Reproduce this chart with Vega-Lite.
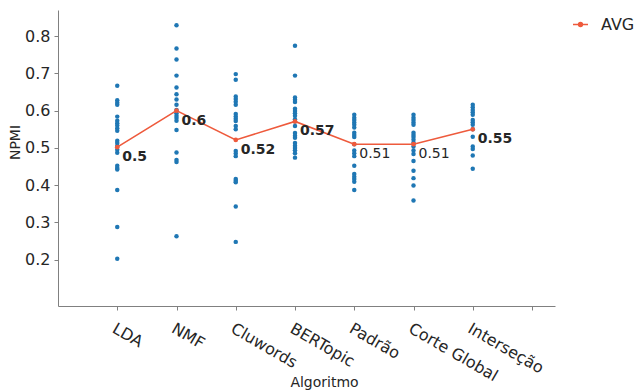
{
  "$schema": "https://vega.github.io/schema/vega-lite/v6.json",
  "autosize": {"type": "none"},
  "padding": {"left": 58, "top": 10, "right": 81, "bottom": 86},
  "width": 497,
  "height": 296,
  "config": {
    "font": "DejaVu Sans",
    "view": {"stroke": null},
    "axis": {
      "grid": false,
      "domainColor": "#808080",
      "tickColor": "#808080",
      "tickSize": 4,
      "labelColor": "#262626",
      "titleColor": "#262626",
      "labelFontSize": 16,
      "titleFontSize": 14,
      "titleFontWeight": "normal"
    }
  },
  "datasets": {
    "points": [
      {"Algoritmo": "LDA", "NPMI": 0.667}, {"Algoritmo": "LDA", "NPMI": 0.628}, {"Algoritmo": "LDA", "NPMI": 0.621}, {"Algoritmo": "LDA", "NPMI": 0.616}, {"Algoritmo": "LDA", "NPMI": 0.584}, {"Algoritmo": "LDA", "NPMI": 0.573}, {"Algoritmo": "LDA", "NPMI": 0.566}, {"Algoritmo": "LDA", "NPMI": 0.56}, {"Algoritmo": "LDA", "NPMI": 0.553}, {"Algoritmo": "LDA", "NPMI": 0.546}, {"Algoritmo": "LDA", "NPMI": 0.519}, {"Algoritmo": "LDA", "NPMI": 0.513}, {"Algoritmo": "LDA", "NPMI": 0.505}, {"Algoritmo": "LDA", "NPMI": 0.495}, {"Algoritmo": "LDA", "NPMI": 0.487}, {"Algoritmo": "LDA", "NPMI": 0.452}, {"Algoritmo": "LDA", "NPMI": 0.446}, {"Algoritmo": "LDA", "NPMI": 0.442}, {"Algoritmo": "LDA", "NPMI": 0.387}, {"Algoritmo": "LDA", "NPMI": 0.288}, {"Algoritmo": "LDA", "NPMI": 0.203},
      {"Algoritmo": "NMF", "NPMI": 0.829}, {"Algoritmo": "NMF", "NPMI": 0.767}, {"Algoritmo": "NMF", "NPMI": 0.737}, {"Algoritmo": "NMF", "NPMI": 0.694}, {"Algoritmo": "NMF", "NPMI": 0.662}, {"Algoritmo": "NMF", "NPMI": 0.644}, {"Algoritmo": "NMF", "NPMI": 0.63}, {"Algoritmo": "NMF", "NPMI": 0.616}, {"Algoritmo": "NMF", "NPMI": 0.602}, {"Algoritmo": "NMF", "NPMI": 0.593}, {"Algoritmo": "NMF", "NPMI": 0.586}, {"Algoritmo": "NMF", "NPMI": 0.58}, {"Algoritmo": "NMF", "NPMI": 0.573}, {"Algoritmo": "NMF", "NPMI": 0.548}, {"Algoritmo": "NMF", "NPMI": 0.488}, {"Algoritmo": "NMF", "NPMI": 0.468}, {"Algoritmo": "NMF", "NPMI": 0.462}, {"Algoritmo": "NMF", "NPMI": 0.263},
      {"Algoritmo": "Cluwords", "NPMI": 0.698}, {"Algoritmo": "Cluwords", "NPMI": 0.683}, {"Algoritmo": "Cluwords", "NPMI": 0.638}, {"Algoritmo": "Cluwords", "NPMI": 0.631}, {"Algoritmo": "Cluwords", "NPMI": 0.624}, {"Algoritmo": "Cluwords", "NPMI": 0.616}, {"Algoritmo": "Cluwords", "NPMI": 0.591}, {"Algoritmo": "Cluwords", "NPMI": 0.584}, {"Algoritmo": "Cluwords", "NPMI": 0.578}, {"Algoritmo": "Cluwords", "NPMI": 0.572}, {"Algoritmo": "Cluwords", "NPMI": 0.559}, {"Algoritmo": "Cluwords", "NPMI": 0.55}, {"Algoritmo": "Cluwords", "NPMI": 0.492}, {"Algoritmo": "Cluwords", "NPMI": 0.485}, {"Algoritmo": "Cluwords", "NPMI": 0.478}, {"Algoritmo": "Cluwords", "NPMI": 0.417}, {"Algoritmo": "Cluwords", "NPMI": 0.412}, {"Algoritmo": "Cluwords", "NPMI": 0.408}, {"Algoritmo": "Cluwords", "NPMI": 0.343}, {"Algoritmo": "Cluwords", "NPMI": 0.248},
      {"Algoritmo": "BERTopic", "NPMI": 0.774}, {"Algoritmo": "BERTopic", "NPMI": 0.694}, {"Algoritmo": "BERTopic", "NPMI": 0.635}, {"Algoritmo": "BERTopic", "NPMI": 0.629}, {"Algoritmo": "BERTopic", "NPMI": 0.623}, {"Algoritmo": "BERTopic", "NPMI": 0.605}, {"Algoritmo": "BERTopic", "NPMI": 0.599}, {"Algoritmo": "BERTopic", "NPMI": 0.593}, {"Algoritmo": "BERTopic", "NPMI": 0.586}, {"Algoritmo": "BERTopic", "NPMI": 0.577}, {"Algoritmo": "BERTopic", "NPMI": 0.571}, {"Algoritmo": "BERTopic", "NPMI": 0.559}, {"Algoritmo": "BERTopic", "NPMI": 0.54}, {"Algoritmo": "BERTopic", "NPMI": 0.533}, {"Algoritmo": "BERTopic", "NPMI": 0.527}, {"Algoritmo": "BERTopic", "NPMI": 0.513}, {"Algoritmo": "BERTopic", "NPMI": 0.506}, {"Algoritmo": "BERTopic", "NPMI": 0.5}, {"Algoritmo": "BERTopic", "NPMI": 0.494}, {"Algoritmo": "BERTopic", "NPMI": 0.486}, {"Algoritmo": "BERTopic", "NPMI": 0.474},
      {"Algoritmo": "Padrão", "NPMI": 0.589}, {"Algoritmo": "Padrão", "NPMI": 0.581}, {"Algoritmo": "Padrão", "NPMI": 0.575}, {"Algoritmo": "Padrão", "NPMI": 0.568}, {"Algoritmo": "Padrão", "NPMI": 0.562}, {"Algoritmo": "Padrão", "NPMI": 0.555}, {"Algoritmo": "Padrão", "NPMI": 0.541}, {"Algoritmo": "Padrão", "NPMI": 0.535}, {"Algoritmo": "Padrão", "NPMI": 0.529}, {"Algoritmo": "Padrão", "NPMI": 0.51}, {"Algoritmo": "Padrão", "NPMI": 0.493}, {"Algoritmo": "Padrão", "NPMI": 0.486}, {"Algoritmo": "Padrão", "NPMI": 0.478}, {"Algoritmo": "Padrão", "NPMI": 0.452}, {"Algoritmo": "Padrão", "NPMI": 0.43}, {"Algoritmo": "Padrão", "NPMI": 0.423}, {"Algoritmo": "Padrão", "NPMI": 0.417}, {"Algoritmo": "Padrão", "NPMI": 0.409}, {"Algoritmo": "Padrão", "NPMI": 0.387},
      {"Algoritmo": "Corte Global", "NPMI": 0.589}, {"Algoritmo": "Corte Global", "NPMI": 0.581}, {"Algoritmo": "Corte Global", "NPMI": 0.575}, {"Algoritmo": "Corte Global", "NPMI": 0.568}, {"Algoritmo": "Corte Global", "NPMI": 0.562}, {"Algoritmo": "Corte Global", "NPMI": 0.541}, {"Algoritmo": "Corte Global", "NPMI": 0.535}, {"Algoritmo": "Corte Global", "NPMI": 0.529}, {"Algoritmo": "Corte Global", "NPMI": 0.522}, {"Algoritmo": "Corte Global", "NPMI": 0.514}, {"Algoritmo": "Corte Global", "NPMI": 0.504}, {"Algoritmo": "Corte Global", "NPMI": 0.493}, {"Algoritmo": "Corte Global", "NPMI": 0.484}, {"Algoritmo": "Corte Global", "NPMI": 0.465}, {"Algoritmo": "Corte Global", "NPMI": 0.439}, {"Algoritmo": "Corte Global", "NPMI": 0.419}, {"Algoritmo": "Corte Global", "NPMI": 0.399}, {"Algoritmo": "Corte Global", "NPMI": 0.359},
      {"Algoritmo": "Interseção", "NPMI": 0.616}, {"Algoritmo": "Interseção", "NPMI": 0.609}, {"Algoritmo": "Interseção", "NPMI": 0.602}, {"Algoritmo": "Interseção", "NPMI": 0.596}, {"Algoritmo": "Interseção", "NPMI": 0.589}, {"Algoritmo": "Interseção", "NPMI": 0.575}, {"Algoritmo": "Interseção", "NPMI": 0.569}, {"Algoritmo": "Interseção", "NPMI": 0.562}, {"Algoritmo": "Interseção", "NPMI": 0.55}, {"Algoritmo": "Interseção", "NPMI": 0.53}, {"Algoritmo": "Interseção", "NPMI": 0.504}, {"Algoritmo": "Interseção", "NPMI": 0.497}, {"Algoritmo": "Interseção", "NPMI": 0.48}, {"Algoritmo": "Interseção", "NPMI": 0.444}
    ],
    "avg": [
      {"Algoritmo": "LDA", "NPMI": 0.502, "rotulo": "0.5"},
      {"Algoritmo": "NMF", "NPMI": 0.6, "rotulo": "0.6"},
      {"Algoritmo": "Cluwords", "NPMI": 0.5215, "rotulo": "0.52"},
      {"Algoritmo": "BERTopic", "NPMI": 0.571, "rotulo": "0.57"},
      {"Algoritmo": "Padrão", "NPMI": 0.51, "rotulo": "0.51"},
      {"Algoritmo": "Corte Global", "NPMI": 0.51, "rotulo": "0.51"},
      {"Algoritmo": "Interseção", "NPMI": 0.55, "rotulo": "0.55"}
    ]
  },
  "encoding": {
    "x": {
      "field": "Algoritmo",
      "type": "nominal",
      "sort": null,
      "scale": {
        "type": "point",
        "domain": ["", "LDA", "NMF", "Cluwords", "BERTopic", "Padrão", "Corte Global", "Interseção", " "],
        "padding": 0.194,
        "align": 0
      },
      "axis": {
        "values": ["LDA", "NMF", "Cluwords", "BERTopic", "Padrão", "Corte Global", "Interseção", " "],
        "labelAngle": 30,
        "labelAlign": "left",
        "labelBaseline": "top",
        "labelPadding": 10,
        "title": "Algoritmo",
        "titleX": 266,
        "titleY": 76,
        "titleAlign": "center",
        "titleBaseline": "middle"
      }
    },
    "y": {
      "field": "NPMI",
      "type": "quantitative",
      "scale": {"domain": [0.076, 0.87], "nice": false, "zero": false},
      "axis": {
        "values": [0.2, 0.3, 0.4, 0.5, 0.6, 0.7, 0.8],
        "format": ".1f",
        "labelPadding": 4,
        "title": "NPMI",
        "titleX": -43,
        "titleY": 132,
        "titleAlign": "center",
        "titleBaseline": "middle"
      }
    }
  },
  "layer": [
    {
      "data": {"name": "points"},
      "mark": {"type": "circle", "size": 20, "color": "#1f77b4", "opacity": 1}
    },
    {
      "data": {"name": "avg"},
      "mark": {"type": "line", "strokeWidth": 1.6, "point": {"filled": true, "size": 22}},
      "encoding": {
        "color": {
          "datum": "AVG",
          "scale": {"range": ["#ee5a3c"]},
          "legend": {
            "title": null,
            "orient": "none",
            "legendX": 514,
            "legendY": 6,
            "symbolType": "M-1,0H1M-0.25,0A0.25,0.25 0 1,1 0.25,0A0.25,0.25 0 1,1 -0.25,0",
            "symbolSize": 225,
            "symbolStrokeWidth": 1.6,
            "labelFontSize": 16,
            "labelColor": "#262626",
            "labelOffset": 12,
            "padding": 0
          }
        }
      }
    },
    {
      "data": {"name": "avg"},
      "transform": [{"filter": "datum.Algoritmo !== 'Padrão' && datum.Algoritmo !== 'Corte Global'"}],
      "mark": {"type": "text", "align": "left", "baseline": "middle", "dx": 5, "dy": 10, "fontSize": 14, "fontWeight": "bold", "color": "#262626"},
      "encoding": {"text": {"field": "rotulo"}}
    },
    {
      "data": {"name": "avg"},
      "transform": [{"filter": "datum.Algoritmo === 'Padrão' || datum.Algoritmo === 'Corte Global'"}],
      "mark": {"type": "text", "align": "left", "baseline": "middle", "dx": 5, "dy": 10, "fontSize": 14, "fontWeight": "normal", "color": "#262626"},
      "encoding": {"text": {"field": "rotulo"}}
    }
  ]
}
